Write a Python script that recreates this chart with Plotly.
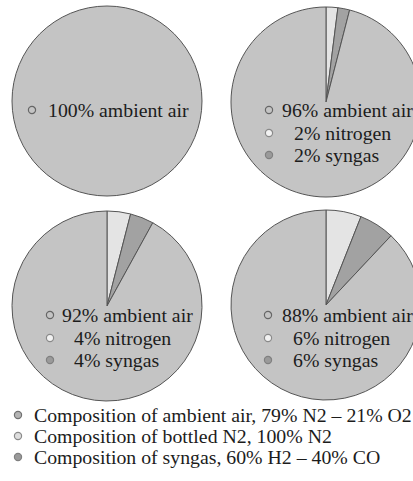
import plotly.graph_objects as go

# Gas mixture shares (%) for the four feed scenarios
air_pct = [100, 96, 92, 88]
nitrogen_pct = [0, 2, 4, 6]
syngas_pct = [0, 2, 4, 6]
gas_names = ["ambient air", "nitrogen", "syngas"]

legend_lines = [
    "Composition of ambient air, 79% N2 \u2013 21% O2",
    "Composition of bottled N2, 100% N2",
    "Composition of syngas, 60% H2 \u2013 40% CO",
]

# fill colours: nitrogen, syngas, ambient air (slice order, clockwise from 12 o'clock)
slice_colors = ["#e4e4e4", "#a2a2a2", "#c4c4c4"]
dot_fill = {"ambient air": "#c4c4c4", "nitrogen": "#f2f2f2", "syngas": "#9a9a9a"}
dot_line = {"ambient air": "#666666", "nitrogen": "#8a8a8a", "syngas": "#808080"}
legend_dot_fill = ["#b4b4b4", "#dedede", "#9a9a9a"]
legend_dot_line = ["#707070", "#8a8a8a", "#808080"]

W, H = 422, 481
FONT = "Liberation Serif, Times New Roman, serif"
FS = 19.8
TXT = "#1c1c1c"

# pie centres / radius and label anchors in pixels
pie_geo = [(107, 101, 95), (326, 102, 95), (107, 306, 95), (326, 305, 95)]
label_geo = [
    (32, 46, 46, [110]),
    (269, 280, 292, [110, 133, 155]),
    (50, 60, 72, [315, 338, 360]),
    (268, 280, 291, [315, 338, 360]),
]


def px(x):
    return x / W


def py(y):
    return 1 - y / H


fig = go.Figure()
for i, (cx, cy, r) in enumerate(pie_geo):
    fig.add_trace(go.Pie(
        values=[nitrogen_pct[i], syngas_pct[i], air_pct[i]],
        labels=["nitrogen", "syngas", "ambient air"],
        sort=False,
        direction="clockwise",
        rotation=0,
        textinfo="none",
        hoverinfo="label+percent",
        marker=dict(colors=slice_colors, line=dict(color="#555555", width=1)),
        domain=dict(x=[px(cx - r), px(cx + r)], y=[py(cy + r), py(cy - r)]),
        showlegend=False,
    ))

annotations = []
shapes = []
dr = 3.6
for i, (dot_x, tx1, tx2, rows) in enumerate(label_geo):
    shares = [air_pct[i], nitrogen_pct[i], syngas_pct[i]]
    for k, ry in enumerate(rows):
        name = gas_names[k]
        text = f"{shares[k]}% {name}"
        annotations.append(dict(
            x=px(tx1 if k == 0 else tx2), y=py(ry), xref="paper", yref="paper",
            xanchor="left", yanchor="middle", showarrow=False, text=text,
            font=dict(family=FONT, size=FS, color=TXT),
        ))
        shapes.append(dict(
            type="circle", xref="paper", yref="paper",
            x0=px(dot_x - dr), x1=px(dot_x + dr), y0=py(ry + dr), y1=py(ry - dr),
            fillcolor=dot_fill[name], line=dict(color=dot_line[name], width=1.2),
        ))

legend_rows = [415, 436, 457]
for k, (line, ry) in enumerate(zip(legend_lines, legend_rows)):
    annotations.append(dict(
        x=px(32), y=py(ry), xref="paper", yref="paper",
        xanchor="left", yanchor="middle", showarrow=False, text=line,
        font=dict(family=FONT, size=FS, color=TXT),
    ))
    shapes.append(dict(
        type="circle", xref="paper", yref="paper",
        x0=px(18 - dr), x1=px(18 + dr), y0=py(ry + dr), y1=py(ry - dr),
        fillcolor=legend_dot_fill[k], line=dict(color=legend_dot_line[k], width=1.2),
    ))

fig.update_layout(
    width=W, height=H,
    margin=dict(l=0, r=0, t=0, b=0),
    paper_bgcolor="white", plot_bgcolor="white",
    font=dict(family=FONT),
    annotations=annotations, shapes=shapes,
)

fig.write_html("out.html")
